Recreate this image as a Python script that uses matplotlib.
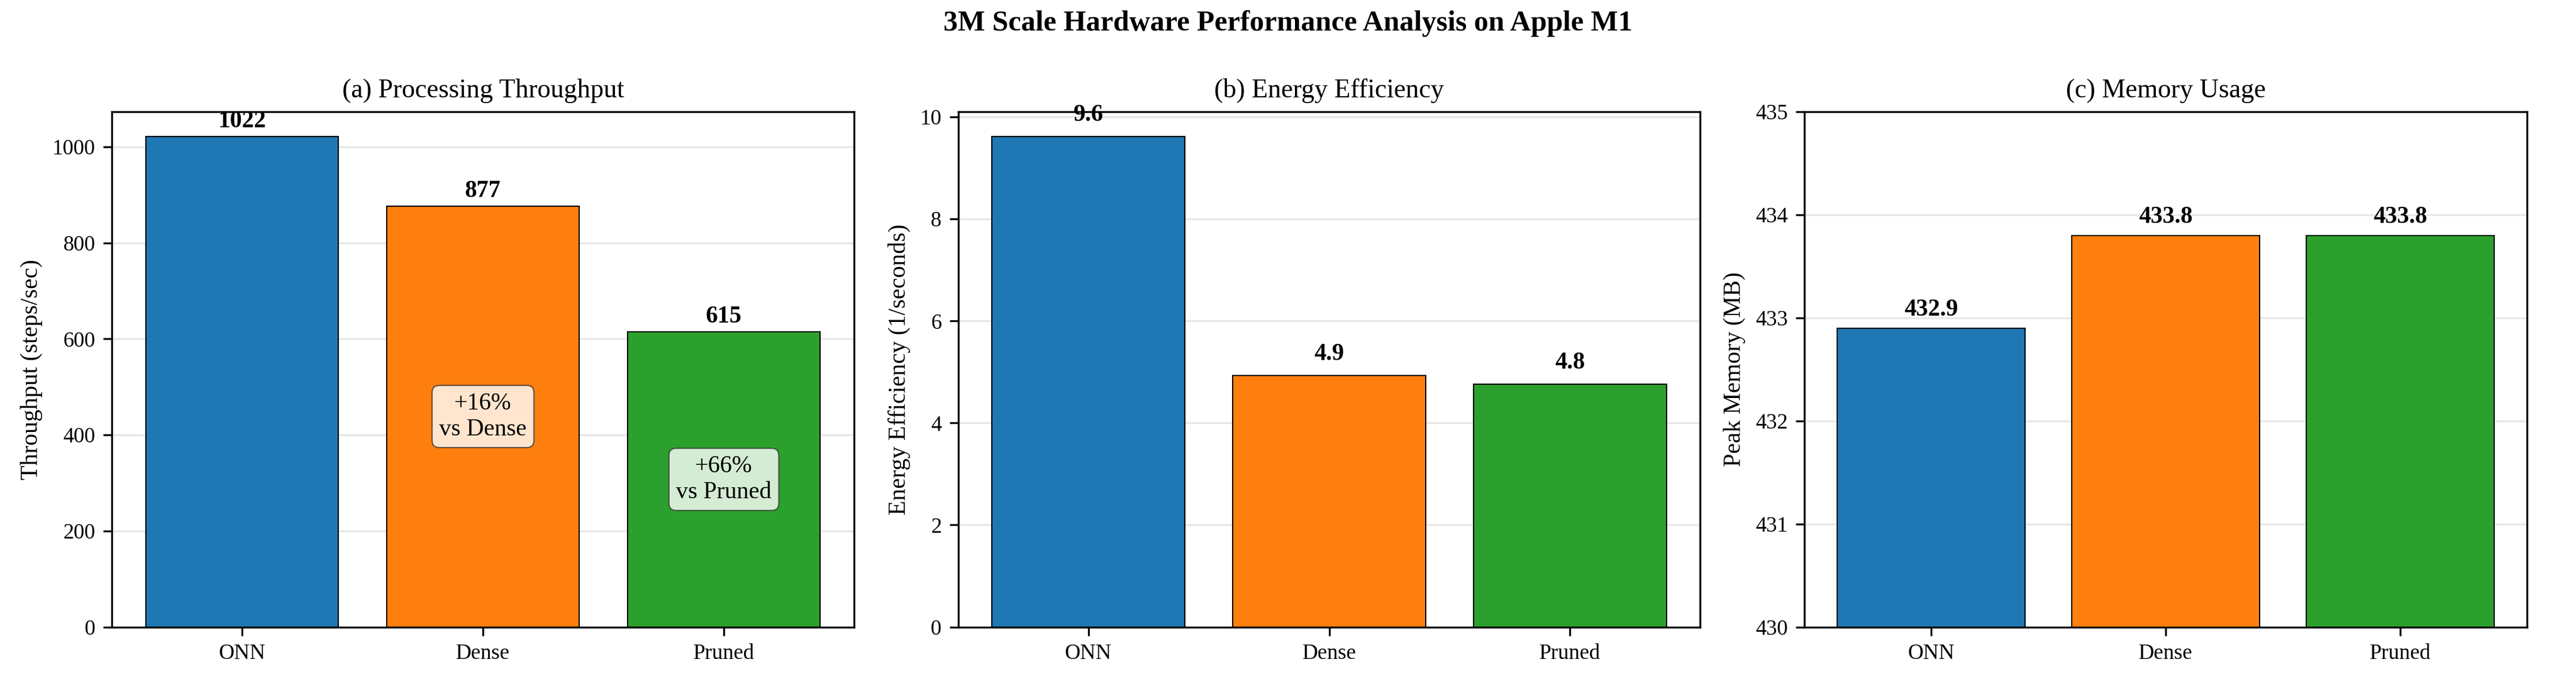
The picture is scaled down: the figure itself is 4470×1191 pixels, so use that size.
import numpy as np
import matplotlib
matplotlib.use("Agg")
import matplotlib.pyplot as plt

plt.rcParams['font.family'] = ['Liberation Serif', 'DejaVu Serif']

models = ["ONN", "Dense", "Pruned"]
throughput = [1022, 877, 615]
efficiency = [9.62, 4.93, 4.76]
memory = [432.9, 433.8, 433.8]
speedup_labels = ["+16%\nvs Dense", "+66%\nvs Pruned"]
colors = ['#1f77b4', '#ff7f0e', '#2ca02c']

fig = plt.figure(figsize=(14.9, 3.97), dpi=300)
ax1 = fig.add_axes([0.0435, 0.086, 0.288, 0.751])
ax2 = fig.add_axes([0.372, 0.086, 0.288, 0.751])
ax3 = fig.add_axes([0.7005, 0.086, 0.2805, 0.751])
x = np.arange(len(models))

# (a) throughput
ax1.bar(x, throughput, color=colors, edgecolor='black', linewidth=0.5)
ax1.set_ylim(0, max(throughput) * 1.05)
for i, v in enumerate(throughput):
    ax1.text(i, v + 8, f"{v}", ha='center', va='bottom', fontweight='bold', fontsize=10)
for i, lab in zip([1, 2], speedup_labels):
    ax1.text(i, throughput[i] / 2, lab, ha='center', va='center', fontsize=10,
             bbox=dict(boxstyle='round,pad=0.3', facecolor='white', alpha=0.8,
                       edgecolor='#333333', linewidth=0.5))
ax1.set_title("(a) Processing Throughput", fontsize=11)
ax1.set_ylabel("Throughput (steps/sec)", fontsize=10)

# (b) energy efficiency
ax2.bar(x, efficiency, color=colors, edgecolor='black', linewidth=0.5)
ax2.set_ylim(0, max(efficiency) * 1.05)
for i, v in enumerate(efficiency):
    ax2.text(i, v + 0.2, f"{v:.1f}", ha='center', va='bottom', fontweight='bold', fontsize=10)
ax2.set_title("(b) Energy Efficiency", fontsize=11)
ax2.set_ylabel("Energy Efficiency (1/seconds)", fontsize=10)

# (c) memory
ax3.bar(x, memory, color=colors, edgecolor='black', linewidth=0.5)
ax3.set_ylim(430, 435)
for i, v in enumerate(memory):
    ax3.text(i, v + 0.07, f"{v:.1f}", ha='center', va='bottom', fontweight='bold', fontsize=10)
ax3.set_title("(c) Memory Usage", fontsize=11)
ax3.set_ylabel("Peak Memory (MB)", fontsize=10)

for ax in (ax1, ax2, ax3):
    ax.set_xticks(x)
    ax.set_xticklabels(models)
    ax.tick_params(labelsize=9)
    ax.grid(axis='y', alpha=0.3)
    ax.set_axisbelow(True)

fig.suptitle("3M Scale Hardware Performance Analysis on Apple M1", fontsize=12, fontweight='bold', y=0.985)
fig.savefig("out.png", dpi=300)
